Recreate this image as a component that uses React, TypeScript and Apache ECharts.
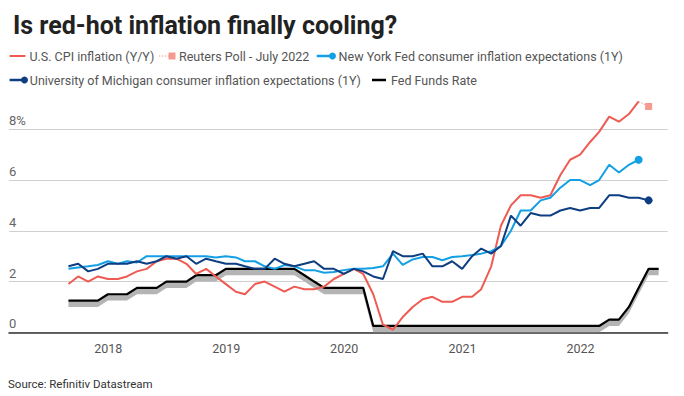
import React, { useEffect, useRef } from "react";
import * as echarts from "echarts";

// Monthly observations, August 2017 onwards (plotted at month end)
const startYear = 2017;
const startMonth = 7; // August (0-based)

const cpiYoY = [
  1.9, 2.2, 2.0, 2.2, 2.1,
  2.1, 2.2, 2.4, 2.5, 2.8, 2.9, 2.9, 2.7, 2.3, 2.5, 2.2, 1.9,
  1.6, 1.5, 1.9, 2.0, 1.8, 1.6, 1.8, 1.7, 1.7, 1.8, 2.1, 2.3,
  2.5, 2.3, 1.5, 0.3, 0.1, 0.6, 1.0, 1.3, 1.4, 1.2, 1.2, 1.4,
  1.4, 1.7, 2.6, 4.2, 5.0, 5.4, 5.4, 5.3, 5.4, 6.2, 6.8, 7.0,
  7.5, 7.9, 8.5, 8.3, 8.6, 9.1,
];

const reutersPoll = 8.9; // July 2022 poll

const nyFed1Y = [
  2.5, 2.55, 2.6, 2.65, 2.8,
  2.7, 2.8, 2.75, 3.0, 3.0, 3.0, 3.0, 3.0, 3.0, 3.0, 2.95, 3.0,
  2.95, 2.8, 2.8, 2.6, 2.5, 2.65, 2.6, 2.45, 2.45, 2.35, 2.38, 2.45,
  2.5, 2.5, 2.53, 2.6, 3.1, 2.66, 2.87, 2.97, 2.97, 2.84, 2.97, 3.0,
  3.05, 3.1, 3.2, 3.4, 4.0, 4.8, 4.8, 5.2, 5.3, 5.7, 6.0, 6.0,
  5.8, 6.0, 6.6, 6.3, 6.6, 6.8,
];

const uMich1Y = [
  2.6, 2.7, 2.4, 2.5, 2.7,
  2.7, 2.7, 2.8, 2.7, 2.8, 3.0, 2.9, 3.0, 2.7, 2.9, 2.8, 2.7,
  2.7, 2.6, 2.5, 2.5, 2.9, 2.7, 2.6, 2.7, 2.8, 2.5, 2.5, 2.3,
  2.5, 2.4, 2.2, 2.1, 3.2, 3.0, 3.0, 3.1, 2.6, 2.6, 2.8, 2.5,
  3.0, 3.3, 3.1, 3.4, 4.6, 4.2, 4.7, 4.6, 4.6, 4.8, 4.9, 4.8,
  4.9, 4.9, 5.4, 5.4, 5.3, 5.3, 5.2,
];

// Fed funds target range, upper bound (lower bound is 25bp below)
const fedFundsUpper = [
  1.25, 1.25, 1.25, 1.25, 1.5,
  1.5, 1.5, 1.75, 1.75, 1.75, 2.0, 2.0, 2.0, 2.25, 2.25, 2.25, 2.5,
  2.5, 2.5, 2.5, 2.5, 2.5, 2.5, 2.5, 2.25, 2.0, 1.75, 1.75, 1.75,
  1.75, 1.75, 0.25, 0.25, 0.25, 0.25, 0.25, 0.25, 0.25, 0.25, 0.25, 0.25,
  0.25, 0.25, 0.25, 0.25, 0.25, 0.25, 0.25, 0.25, 0.25, 0.25, 0.25, 0.25,
  0.25, 0.25, 0.5, 0.5, 1.0, 1.75, 2.5, 2.5,
];
const fedFundsRangeWidth = 0.25;

const yearLabels = [2018, 2019, 2020, 2021, 2022];

const monthEnd = (i: number) => new Date(startYear, startMonth + i + 1, 0).getTime();

const COLORS = {
  cpi: "#ee5b52",
  poll: "#f59a8f",
  nyfed: "#139fe4",
  umich: "#0e3e82",
  ff: "#000000",
  band: "#b4b4b4",
  text: "#555555",
};

const FONT = "Roboto, 'Noto Sans', sans-serif";

export default function App() {
  const ref = useRef<HTMLDivElement>(null);

  useEffect(() => {
    if (!ref.current) return;
    const chart = echarts.init(ref.current, undefined, { renderer: "svg" });

    const cpiData = cpiYoY.map((v, i) => [monthEnd(i), v]);
    const lastCpi = cpiYoY.length - 1;
    const pollData = [
      { value: [monthEnd(lastCpi), cpiYoY[lastCpi]], symbol: "none" },
      { value: [monthEnd(lastCpi + 1), reutersPoll], symbol: "rect", symbolSize: 7 },
    ];
    const endDot = (arr: number[]) =>
      arr.map((v, i) =>
        i === arr.length - 1
          ? { value: [monthEnd(i), v], symbol: "circle", symbolSize: 8 }
          : { value: [monthEnd(i), v], symbol: "none" }
      );
    const ffUpper = fedFundsUpper.map((v, i) => [monthEnd(i), v]);

    const r1 = 56;
    const r2 = 80;
    const legendText = (x: number, y: number, text: string) => ({
      type: "text",
      x,
      y,
      style: { text, fill: COLORS.text, fontSize: 12.5, fontFamily: FONT, verticalAlign: "middle" },
    });

    chart.setOption({
      animation: false,
      backgroundColor: "#ffffff",
      title: {
        text: "Is red-hot inflation finally cooling?",
        left: 8,
        top: 8,
        textStyle: { fontFamily: FONT, fontWeight: "bold", fontSize: 25, color: "#222222" },
      },
      grid: { left: 9, right: 16.3, top: 129.3, bottom: 63.7 },
      xAxis: {
        type: "value",
        min: new Date(2017, 1, 28).getTime(),
        max: new Date(2022, 8, 28).getTime(),
        axisLine: { show: true, onZero: false, lineStyle: { color: "#333333", width: 1.5 } },
        axisTick: { show: false },
        splitLine: { show: false },
        axisLabel: {
          customValues: yearLabels.map((y) => new Date(y, 0, 1).getTime()),
          formatter: (v: number) => String(new Date(v).getFullYear()),
          color: COLORS.text,
          fontSize: 12.5,
          fontFamily: FONT,
          margin: 10,
        },
      },
      yAxis: {
        type: "value",
        min: 0,
        max: 8,
        interval: 2,
        axisLine: { show: false },
        axisTick: { show: false },
        splitLine: { lineStyle: { color: "#d0d0d0", width: 1 } },
        axisLabel: {
          inside: true,
          margin: 0,
          verticalAlign: "bottom",
          padding: [0, 0, 2, 0],
          color: "#666666",
          fontSize: 13,
          fontFamily: FONT,
          formatter: (v: number) => (v === 8 ? "8%" : String(v)),
        },
      },
      graphic: [
        { type: "line", shape: { x1: 9.6, y1: r1, x2: 25.4, y2: r1 }, style: { stroke: COLORS.cpi, lineWidth: 2 } },
        legendText(29.4, r1, "U.S. CPI inflation (Y/Y)"),
        { type: "line", shape: { x1: 159, y1: r1, x2: 170, y2: r1 }, style: { stroke: COLORS.poll, lineWidth: 1, lineDash: [1.5, 1.5] } },
        { type: "rect", shape: { x: 168.5, y: r1 - 3.5, width: 7, height: 7 }, style: { fill: COLORS.poll } },
        legendText(179, r1, "Reuters Poll - July 2022"),
        { type: "line", shape: { x1: 316.7, y1: r1, x2: 332, y2: r1 }, style: { stroke: COLORS.nyfed, lineWidth: 2.5 } },
        { type: "circle", shape: { cx: 332.5, cy: r1, r: 3.5 }, style: { fill: COLORS.nyfed } },
        legendText(338.6, r1, "New York Fed consumer inflation expectations (1Y)"),
        { type: "line", shape: { x1: 9.6, y1: r2, x2: 24, y2: r2 }, style: { stroke: COLORS.umich, lineWidth: 2.5 } },
        { type: "circle", shape: { cx: 24.5, cy: r2, r: 3.5 }, style: { fill: COLORS.umich } },
        legendText(29.8, r2, "University of Michigan consumer inflation expectations (1Y)"),
        { type: "line", shape: { x1: 372, y1: r2, x2: 386, y2: r2 }, style: { stroke: COLORS.ff, lineWidth: 2.5 } },
        legendText(391, r2, "Fed Funds Rate"),
        {
          type: "text",
          x: 8,
          y: 384,
          style: { text: "Source: Refinitiv Datastream", fill: "#333333", fontSize: 11.5, fontFamily: FONT, verticalAlign: "middle" },
        },
      ],
      series: [
        {
          name: "Fed funds target range",
          type: "custom",
          data: ffUpper,
          encode: { x: 0, y: 1 },
          silent: true,
          z: 1,
          renderItem: (params: any, api: any) => {
            if (params.dataIndex !== 0) return null;
            const top = fedFundsUpper.map((v, i) => api.coord([monthEnd(i), v]));
            const bottom = fedFundsUpper
              .map((v, i) => api.coord([monthEnd(i), v - fedFundsRangeWidth]))
              .reverse();
            return {
              type: "polygon",
              shape: { points: top.concat(bottom) },
              style: { fill: COLORS.band },
            };
          },
        },
        {
          name: "Fed Funds Rate",
          type: "line",
          data: ffUpper,
          symbol: "none",
          lineStyle: { color: COLORS.ff, width: 2.2 },
          clip: false,
          z: 2,
        },
        {
          name: "U.S. CPI inflation (Y/Y)",
          type: "line",
          data: cpiData,
          symbol: "none",
          lineStyle: { color: COLORS.cpi, width: 2 },
          clip: false,
          z: 3,
        },
        {
          name: "Reuters Poll - July 2022",
          type: "line",
          data: pollData,
          itemStyle: { color: COLORS.poll },
          lineStyle: { color: COLORS.poll, width: 1, type: [1.5, 1.5] },
          clip: false,
          z: 3,
        },
        {
          name: "New York Fed consumer inflation expectations (1Y)",
          type: "line",
          data: endDot(nyFed1Y),
          itemStyle: { color: COLORS.nyfed },
          lineStyle: { color: COLORS.nyfed, width: 2 },
          clip: false,
          z: 4,
        },
        {
          name: "University of Michigan consumer inflation expectations (1Y)",
          type: "line",
          data: endDot(uMich1Y),
          itemStyle: { color: COLORS.umich },
          lineStyle: { color: COLORS.umich, width: 2 },
          clip: false,
          z: 5,
        },
      ],
    });

    return () => chart.dispose();
  }, []);

  return (
    <div
      ref={ref}
      style={{ position: "fixed", left: 0, top: 0, width: 684, height: 396, background: "#fff" }}
    />
  );
}
